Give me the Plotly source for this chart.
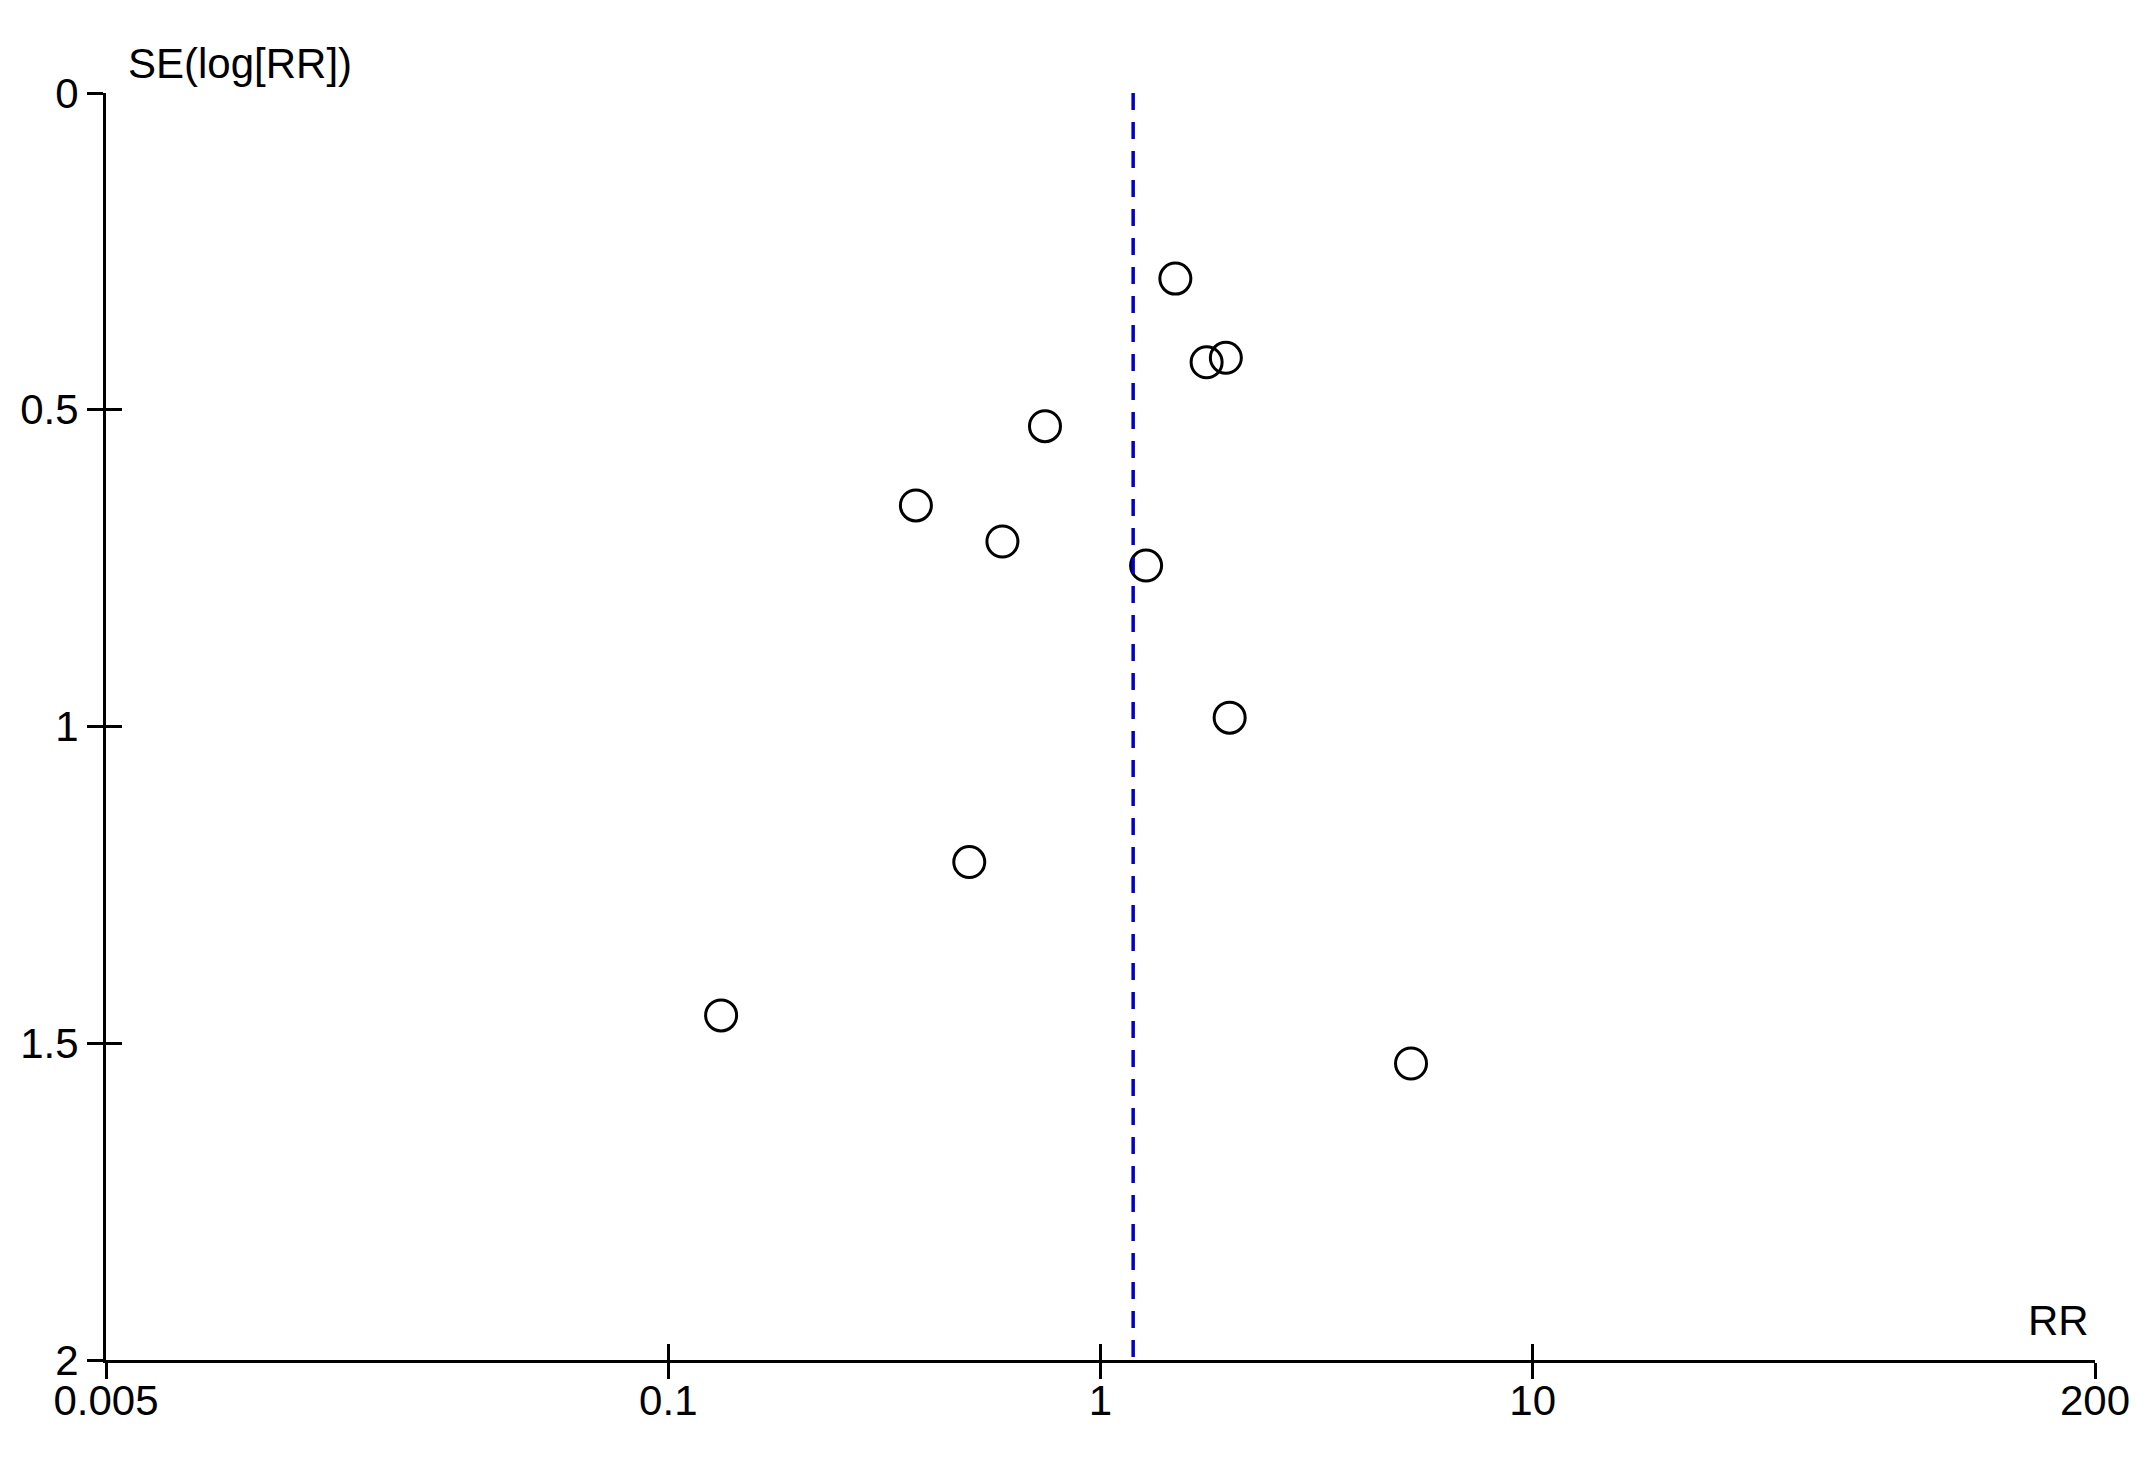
import numpy as np
import plotly.graph_objects as go

# study estimates
rr = [1.49, 1.76, 1.95, 0.744, 0.374, 0.593, 1.275, 1.99, 0.497, 0.1325, 5.23]
se = [0.293, 0.425, 0.418, 0.526, 0.651, 0.708, 0.746, 0.986, 1.214, 1.456, 1.532]

pooled_rr = 1.19
se_span = [0, 2]

x_ticks = [0.005, 0.1, 1, 10, 200]
x_ticktext = ["0.005", "0.1", "1", "10", "200"]
y_ticks = [0, 0.5, 1, 1.5, 2]
y_ticktext = ["0", "0.5", "1", "1.5", "2"]

font = dict(family="Liberation Sans, Arial, sans-serif", size=42, color="black")
xr = [np.log10(x_ticks[0]), np.log10(x_ticks[-1])]
yr = [se_span[1], se_span[0]]

fig = go.Figure()
fig.add_trace(go.Scatter(
    x=rr, y=se, mode="markers", showlegend=False,
    marker=dict(symbol="circle-open", size=31, color="black", line=dict(width=3, color="black"))))
fig.add_trace(go.Scatter(
    x=[pooled_rr, pooled_rr], y=se_span, mode="lines", showlegend=False,
    line=dict(color="#0000CD", width=3.5, dash="17px,12px"),
    xaxis="x2", yaxis="y2"))

# ticks cross the axis: outside ticks on the main axes, inside ticks on overlaid copies
axis_common = dict(showgrid=False, zeroline=False, ticklen=16, tickwidth=3, tickcolor="black",
                   tickfont=font)
fig.update_layout(
    width=2140, height=1449,
    margin=dict(l=98, r=53, t=85, b=97),
    plot_bgcolor="white", paper_bgcolor="white",
    font=font,
    xaxis=dict(type="log", range=xr, tickvals=x_ticks, ticktext=x_ticktext, ticks="outside",
               ticklabelstandoff=-14,
               showline=True, linecolor="black", linewidth=3, **axis_common),
    yaxis=dict(range=yr, tickvals=y_ticks, ticktext=y_ticktext, ticks="outside",
               showline=True, linecolor="black", linewidth=3, **axis_common),
    xaxis2=dict(type="log", range=xr, tickvals=x_ticks, ticks="inside", showticklabels=False,
                overlaying="x", side="bottom", showline=False, **axis_common),
    yaxis2=dict(range=yr, tickvals=y_ticks, ticks="inside", showticklabels=False,
                overlaying="y", side="left", showline=False, **axis_common),
)

fig.add_annotation(text="SE(log[RR])", xref="paper", yref="paper", x=0, y=1,
                   xanchor="left", yanchor="bottom", xshift=20, yshift=4, showarrow=False, font=font)
fig.add_annotation(text="RR", xref="paper", yref="paper", x=1, y=0,
                   xanchor="right", yanchor="bottom", xshift=-4, yshift=14, showarrow=False, font=font)

fig.write_html("out.html")
